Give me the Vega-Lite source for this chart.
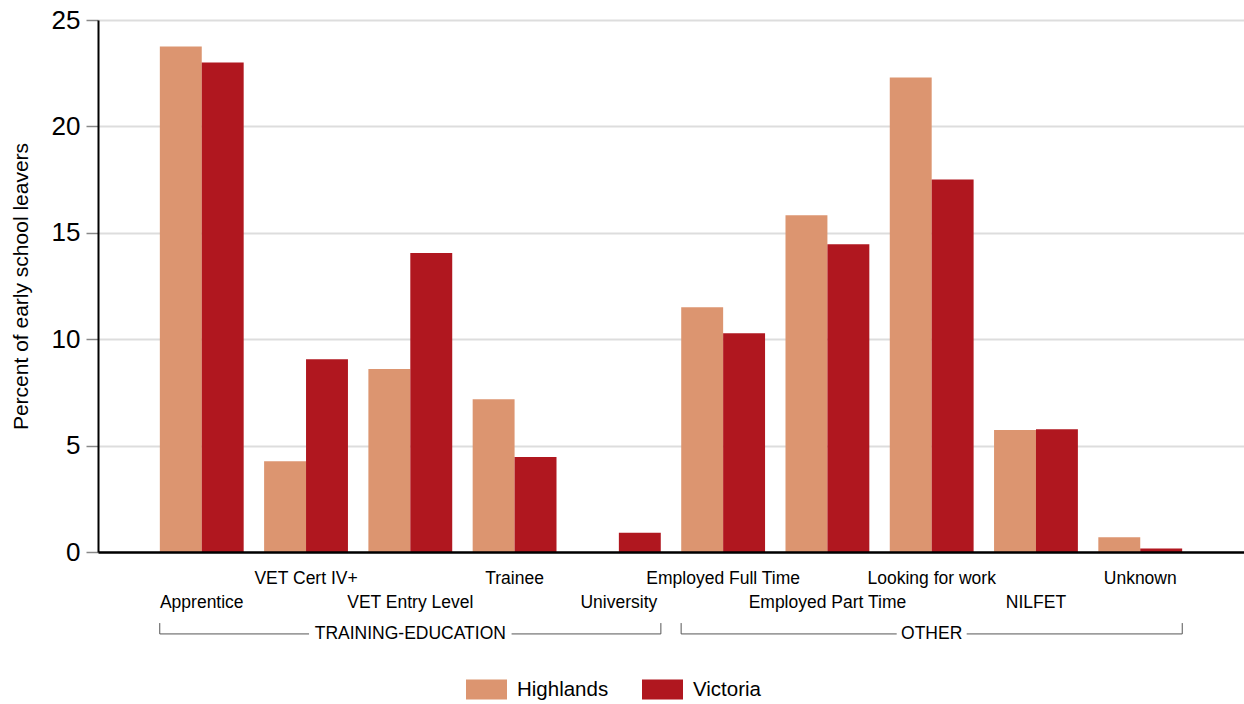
{
  "$schema": "https://vega.github.io/schema/vega-lite/v6.json",
  "autosize": {"type": "none"},
  "width": 1146,
  "height": 532,
  "padding": {"left": 98, "top": 20, "right": 0, "bottom": 152},
  "background": "white",
  "config": {
    "font": "Liberation Sans",
    "view": {"stroke": null}
  },
  "data": {
    "values": [
      {"category": "Apprentice", "series": "Highlands", "value": 23.75},
      {"category": "Apprentice", "series": "Victoria", "value": 23.0},
      {"category": "VET Cert IV+", "series": "Highlands", "value": 4.27},
      {"category": "VET Cert IV+", "series": "Victoria", "value": 9.06},
      {"category": "VET Entry Level", "series": "Highlands", "value": 8.6},
      {"category": "VET Entry Level", "series": "Victoria", "value": 14.05},
      {"category": "Trainee", "series": "Highlands", "value": 7.18},
      {"category": "Trainee", "series": "Victoria", "value": 4.46},
      {"category": "University", "series": "Highlands", "value": 0},
      {"category": "University", "series": "Victoria", "value": 0.91},
      {"category": "Employed Full Time", "series": "Highlands", "value": 11.5},
      {"category": "Employed Full Time", "series": "Victoria", "value": 10.28},
      {"category": "Employed Part Time", "series": "Highlands", "value": 15.82},
      {"category": "Employed Part Time", "series": "Victoria", "value": 14.46},
      {"category": "Looking for work", "series": "Highlands", "value": 22.3},
      {"category": "Looking for work", "series": "Victoria", "value": 17.51},
      {"category": "NILFET", "series": "Highlands", "value": 5.73},
      {"category": "NILFET", "series": "Victoria", "value": 5.77},
      {"category": "Unknown", "series": "Highlands", "value": 0.69},
      {"category": "Unknown", "series": "Victoria", "value": 0.17}
    ]
  },
  "layer": [
    {
      "mark": {"type": "bar"},
      "encoding": {
        "x": {
          "field": "category",
          "type": "nominal",
          "sort": null,
          "scale": {
            "domain": ["Apprentice", "VET Cert IV+", "VET Entry Level", "Trainee", "University", "Employed Full Time", "Employed Part Time", "Looking for work", "NILFET", "Unknown"],
            "paddingInner": 0.196,
            "paddingOuter": 0.593
          },
          "axis": {
            "title": null,
            "ticks": false,
            "domainColor": "#000000",
            "domainWidth": 2.5,
            "labelAngle": 0,
            "labelFontSize": 17.5,
            "labelColor": "#000000",
            "labelPadding": 17,
            "labelLineHeight": 24,
            "labelBaseline": "top",
            "labelOverlap": false,
            "labelBound": false,
            "labelLimit": 0,
            "labelExpr": "indexof(['VET Cert IV+','Trainee','Employed Full Time','Looking for work','Unknown'], datum.value) >= 0 ? [datum.value, ''] : ['', datum.value]",
            "zindex": 1
          }
        },
        "xOffset": {"field": "series", "type": "nominal", "scale": {"paddingInner": 0, "paddingOuter": 0}},
        "y": {
          "field": "value",
          "type": "quantitative",
          "scale": {"domain": [0, 25], "nice": false, "zero": true},
          "axis": {
            "title": "Percent of early school leavers",
            "titleFontSize": 21,
            "titleFontWeight": "normal",
            "titleColor": "#000000",
            "titlePadding": 20,
            "values": [0, 5, 10, 15, 20, 25],
            "labelFontSize": 26,
            "labelColor": "#000000",
            "labelPadding": 6,
            "tickSize": 12,
            "tickColor": "#888888",
            "tickWidth": 1.5,
            "domainColor": "#000000",
            "domainWidth": 2,
            "gridColor": "#dddddd",
            "gridWidth": 2,
            "zindex": 0
          }
        },
        "color": {
          "field": "series",
          "type": "nominal",
          "scale": {"domain": ["Highlands", "Victoria"], "range": ["#dc9570", "#b0171f"]},
          "legend": {
            "title": null,
            "orient": "none",
            "direction": "horizontal",
            "legendX": 368,
            "legendY": 649,
            "padding": 0,
            "symbolType": "M-1,-0.49L1,-0.49L1,0.49L-1,0.49Z",
            "symbolSize": 1681,
            "symbolStrokeWidth": 0,
            "symbolOpacity": 1,
            "labelFontSize": 20.5,
            "labelColor": "#000000",
            "labelOffset": 10,
            "columnPadding": 33
          }
        }
      }
    },
    {
      "data": {"values": [{}]},
      "layer": [
        {
          "mark": {"type": "rule", "color": "#555555", "strokeWidth": 1, "xOffset": -42, "x2Offset": 3},
          "encoding": {
            "x": {"datum": "Apprentice", "type": "nominal"},
            "x2": {"datum": "VET Cert IV+"},
            "y": {"datum": -3.85, "type": "quantitative"}
          }
        },
        {
          "mark": {"type": "rule", "color": "#555555", "strokeWidth": 1, "xOffset": -3, "x2Offset": 42},
          "encoding": {
            "x": {"datum": "Trainee", "type": "nominal"},
            "x2": {"datum": "University"},
            "y": {"datum": -3.85, "type": "quantitative"}
          }
        },
        {
          "mark": {"type": "rule", "color": "#555555", "strokeWidth": 1, "xOffset": -42, "x2Offset": -35},
          "encoding": {
            "x": {"datum": "Employed Full Time", "type": "nominal"},
            "x2": {"datum": "Looking for work"},
            "y": {"datum": -3.85, "type": "quantitative"}
          }
        },
        {
          "mark": {"type": "rule", "color": "#555555", "strokeWidth": 1, "xOffset": 35, "x2Offset": 42},
          "encoding": {
            "x": {"datum": "Looking for work", "type": "nominal"},
            "x2": {"datum": "Unknown"},
            "y": {"datum": -3.85, "type": "quantitative"}
          }
        },
        {
          "mark": {"type": "rule", "color": "#555555", "strokeWidth": 1, "xOffset": -42},
          "encoding": {
            "x": {"datum": "Apprentice", "type": "nominal"},
            "y": {"datum": -3.34, "type": "quantitative"},
            "y2": {"datum": -3.85}
          }
        },
        {
          "mark": {"type": "rule", "color": "#555555", "strokeWidth": 1, "xOffset": 42},
          "encoding": {
            "x": {"datum": "University", "type": "nominal"},
            "y": {"datum": -3.34, "type": "quantitative"},
            "y2": {"datum": -3.85}
          }
        },
        {
          "mark": {"type": "rule", "color": "#555555", "strokeWidth": 1, "xOffset": -42},
          "encoding": {
            "x": {"datum": "Employed Full Time", "type": "nominal"},
            "y": {"datum": -3.34, "type": "quantitative"},
            "y2": {"datum": -3.85}
          }
        },
        {
          "mark": {"type": "rule", "color": "#555555", "strokeWidth": 1, "xOffset": 42},
          "encoding": {
            "x": {"datum": "Unknown", "type": "nominal"},
            "y": {"datum": -3.34, "type": "quantitative"},
            "y2": {"datum": -3.85}
          }
        },
        {
          "mark": {"type": "text", "fontSize": 17.5, "color": "#000000", "baseline": "middle", "align": "center"},
          "encoding": {
            "x": {"datum": "VET Entry Level", "type": "nominal"},
            "y": {"datum": -3.85, "type": "quantitative"},
            "text": {"value": "TRAINING-EDUCATION"}
          }
        },
        {
          "mark": {"type": "text", "fontSize": 17.5, "color": "#000000", "baseline": "middle", "align": "center"},
          "encoding": {
            "x": {"datum": "Looking for work", "type": "nominal"},
            "y": {"datum": -3.85, "type": "quantitative"},
            "text": {"value": "OTHER"}
          }
        }
      ]
    }
  ]
}
